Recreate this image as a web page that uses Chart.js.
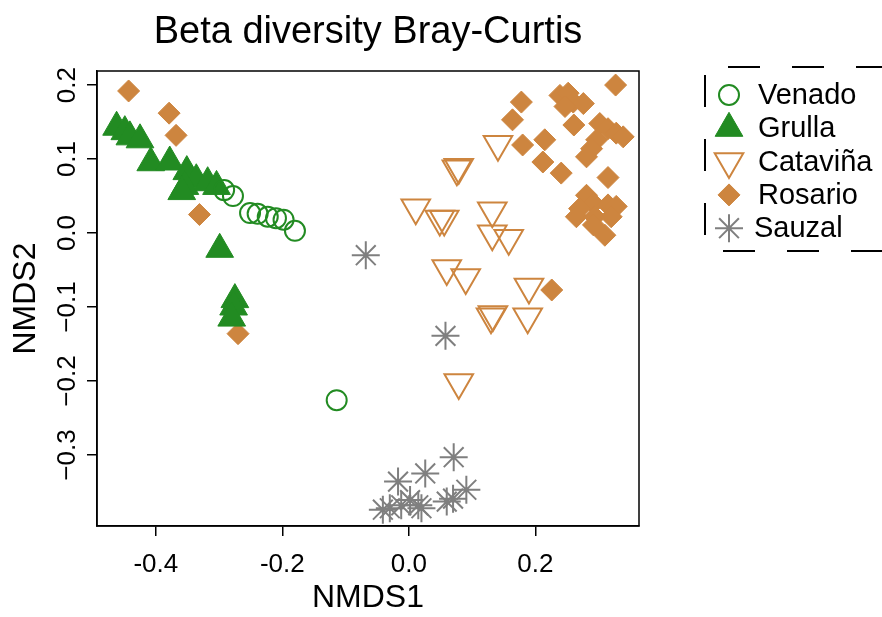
<!DOCTYPE html>
<html>
<head>
<meta charset="utf-8">
<title>Beta diversity Bray-Curtis</title>
<script src="https://cdn.jsdelivr.net/npm/chart.js@4.4.1/dist/chart.umd.min.js"></script>
<style>
  html, body { margin: 0; padding: 0; background: #fff; }
</style>
</head>
<body>
<canvas id="nmdsChart" width="882" height="617"></canvas>
<script>
// NMDS site scores per locality
const venadoX = [-0.292, -0.278, -0.251, -0.239, -0.223, -0.210, -0.198, -0.180, -0.114];
const venadoY = [0.058, 0.050, 0.027, 0.026, 0.022, 0.020, 0.018, 0.003, -0.226];

const grullaX = [-0.462, -0.449, -0.441, -0.425, -0.408, -0.378, -0.351, -0.336, -0.354, -0.318, -0.304, -0.359, -0.299, -0.275, -0.277, -0.280];
const grullaY = [0.143, 0.137, 0.130, 0.126, 0.095, 0.096, 0.083, 0.072, 0.063, 0.068, 0.063, 0.056, -0.022, -0.090, -0.100, -0.115];

const catavinaX = [0.141, 0.076, 0.079, 0.011, 0.049, 0.056, 0.132, 0.132, 0.158, 0.060, 0.090, 0.190, 0.130, 0.133, 0.188, 0.079];
const catavinaY = [0.120, 0.087, 0.089, 0.034, 0.019, 0.019, 0.030, -0.001, -0.007, -0.048, -0.060, -0.073, -0.113, -0.110, -0.113, -0.202];

const rosarioX = [0.327, 0.178, 0.239, 0.252, 0.260, 0.276, 0.247, 0.164, 0.261, 0.302, 0.315, 0.328, 0.339,
                  0.180, 0.215, 0.297, 0.289, 0.281, 0.212, 0.241, 0.315, 0.281, 0.292, 0.270, 0.315, 0.328,
                  0.265, 0.294, 0.320, 0.292, 0.310, 0.226, -0.443, -0.379, -0.368, -0.331, -0.270];
const rosarioY = [0.200, 0.177, 0.186, 0.189, 0.177, 0.175, 0.171, 0.153, 0.146, 0.148, 0.141, 0.135, 0.130,
                  0.119, 0.126, 0.126, 0.114, 0.103, 0.096, 0.081, 0.075, 0.051, 0.040, 0.033, 0.038, 0.036,
                  0.022, 0.022, 0.022, 0.011, -0.003, -0.077, 0.192, 0.162, 0.132, 0.025, -0.136];

const sauzalX = [-0.068, 0.058, 0.071, 0.026, -0.017, 0.091, 0.070, 0.060, 0.002, -0.012, -0.030, -0.041, 0.020, 0.015];
const sauzalY = [-0.030, -0.139, -0.303, -0.325, -0.336, -0.347, -0.359, -0.363, -0.361, -0.368, -0.372, -0.374, -0.372, -0.368];

// axis ticks
const xTicks = [-0.4, -0.2, 0.0, 0.2];
const yTicks = [-0.3, -0.2, -0.1, 0.0, 0.1, 0.2];

const FONT = '"Liberation Sans", Arial, Helvetica, sans-serif';
const GREEN = '#228B22';
const PERU = '#CD853F';
const GREY = '#7F7F7F';

function pts(xs, ys) {
    return xs.map((x, i) => ({ x: x, y: ys[i] }));
}

const datasets = [
    { label: 'Venado', data: pts(venadoX, venadoY), pointStyle: 'circle', rotation: 0,
      pointRadius: 10, borderColor: GREEN, backgroundColor: 'rgba(0,0,0,0)', borderWidth: 2 },
    { label: 'Grulla', data: pts(grullaX, grullaY), pointStyle: 'triangle', rotation: 0,
      pointRadius: 16, borderColor: GREEN, backgroundColor: GREEN, borderWidth: 1 },
    { label: 'Cataviña', data: pts(catavinaX, catavinaY), pointStyle: 'triangle', rotation: 180,
      pointRadius: 16.5, borderColor: PERU, backgroundColor: 'rgba(0,0,0,0)', borderWidth: 2 },
    { label: 'Rosario', data: pts(rosarioX, rosarioY), pointStyle: 'rectRot', rotation: 0,
      pointRadius: 11, borderColor: PERU, backgroundColor: PERU, borderWidth: 1 },
    { label: 'Sauzal', data: pts(sauzalX, sauzalY), pointStyle: 'star', rotation: 0,
      pointRadius: 14, borderColor: GREY, backgroundColor: GREY, borderWidth: 2 }
];
datasets.forEach(d => { d.pointRotation = d.rotation; d.pointHoverRadius = d.pointRadius; });

// box around the plot region, rotated y tick labels and the dashed legend
const framePlugin = {
    id: 'frame',
    afterDraw(chart) {
        const { ctx, chartArea: a, scales } = chart;
        ctx.save();
        ctx.strokeStyle = '#000';
        ctx.lineWidth = 1.5;
        ctx.strokeRect(a.left, a.top, a.right - a.left, a.bottom - a.top);

        ctx.fillStyle = '#000';
        ctx.font = '26px ' + FONT;
        ctx.textAlign = 'center';
        ctx.textBaseline = 'middle';
        yTicks.forEach(v => {
            const py = scales.y.getPixelForValue(v);
            const txt = (v < 0 ? '\u2212' : '') + Math.abs(v).toFixed(1);
            ctx.save();
            ctx.translate(68, py);
            ctx.rotate(-Math.PI / 2);
            ctx.fillText(txt, 0, 0);
            ctx.restore();
        });

        // legend box
        ctx.lineWidth = 2;
        ctx.setLineDash([32, 32]);
        ctx.beginPath();
        ctx.moveTo(705, 75); ctx.lineTo(705, 251);
        ctx.stroke();
        ctx.beginPath();
        ctx.moveTo(728, 67); ctx.lineTo(900, 67);
        ctx.stroke();
        ctx.beginPath();
        ctx.moveTo(723, 251); ctx.lineTo(900, 251);
        ctx.stroke();
        ctx.setLineDash([]);

        ctx.font = '29px ' + FONT;
        ctx.textAlign = 'left';
        chart.data.datasets.forEach((d, i) => {
            const y = 95 + i * 33.3;
            ctx.fillStyle = d.backgroundColor;
            ctx.strokeStyle = d.borderColor;
            ctx.lineWidth = d.borderWidth;
            Chart.helpers.drawPoint(ctx, {
                pointStyle: d.pointStyle,
                rotation: d.rotation,
                radius: d.pointRadius,
                borderWidth: d.borderWidth
            }, 729, y);
            ctx.fillStyle = '#000';
            ctx.fillText(d.label, i === 4 ? 754 : 758, y + 1);
        });
        ctx.restore();
    }
};

const axisGrid = {
    display: true,
    drawOnChartArea: false,
    drawTicks: true,
    tickLength: 10,
    color: '#000',
    lineWidth: 1.5
};

const config = {
    type: 'scatter',
    data: { datasets: datasets },
    options: {
        responsive: false,
        animation: false,
        layout: { padding: { left: 0, top: 0, right: 243, bottom: 0 } },
        scales: {
            x: {
                type: 'linear',
                min: -0.493,
                max: 0.364,
                afterBuildTicks: s => { s.ticks = xTicks.map(v => ({ value: v })); },
                afterFit: s => { s.height = 91; },
                ticks: {
                    color: '#000',
                    font: { size: 26, family: FONT },
                    padding: 13,
                    maxRotation: 0,
                    callback: v => v.toFixed(1)
                },
                grid: axisGrid,
                border: { display: true, color: '#000', width: 1.5 },
                title: {
                    display: true,
                    text: 'NMDS1',
                    color: '#000',
                    font: { size: 32, family: FONT },
                    padding: { top: 0, bottom: 0 }
                }
            },
            y: {
                type: 'linear',
                min: -0.396,
                max: 0.219,
                afterBuildTicks: s => { s.ticks = yTicks.map(v => ({ value: v })); },
                afterFit: s => { s.width = 97; },
                ticks: { display: false },
                grid: axisGrid,
                border: { display: true, color: '#000', width: 1.5 },
                title: {
                    display: true,
                    text: 'NMDS2',
                    color: '#000',
                    font: { size: 32, family: FONT },
                    padding: { top: 7, bottom: 0 }
                }
            }
        },
        plugins: {
            legend: { display: false },
            tooltip: { enabled: false },
            title: {
                display: true,
                fullSize: false,
                text: 'Beta diversity Bray-Curtis',
                color: '#000',
                font: { size: 38, family: FONT, weight: 'normal' },
                padding: { top: 10, bottom: 15.4 }
            }
        }
    },
    plugins: [framePlugin]
};

const nmdsChart = new Chart(document.getElementById('nmdsChart'), config);
</script>
</body>
</html>
